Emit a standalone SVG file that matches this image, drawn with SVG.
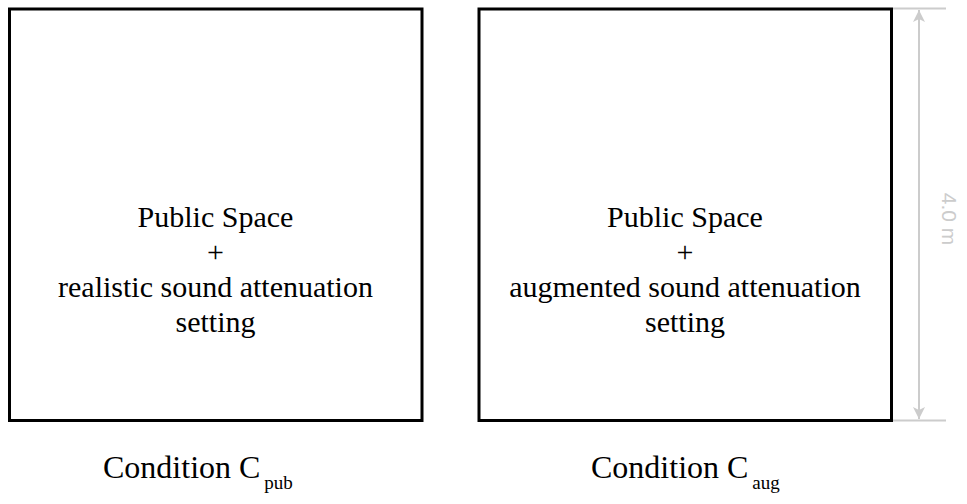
<svg xmlns="http://www.w3.org/2000/svg" width="967" height="504" viewBox="0 0 967 504">
  <style>
    .room { fill: #ffffff; stroke: #000000; stroke-width: 3; }
    .label { font-family: "Liberation Serif", "Times New Roman", serif; font-size: 30px; fill: #000000; text-anchor: middle; }
    .cond { font-family: "Liberation Serif", "Times New Roman", serif; font-size: 32px; fill: #000000; }
    .sub { font-size: 19px; }
    .dim { stroke: #cccccc; stroke-width: 2; fill: none; }
    .dimtext { font-family: "Liberation Sans", Arial, sans-serif; font-size: 21px; fill: #cccccc; text-anchor: middle; }
  </style>
  <defs>
    <marker id="arrow" viewBox="0 0 12 12" refX="12" refY="6" markerWidth="14" markerHeight="12" orient="auto-start-reverse" markerUnits="userSpaceOnUse">
      <path d="M0,0 L12,6 L0,12 L3,6 Z" fill="#cccccc"/>
    </marker>
  </defs>
  <rect width="967" height="504" fill="#ffffff"/>

  <g id="room-pub">
    <rect class="room" x="9.5" y="9" width="412.5" height="411.5"/>
    <text class="label" x="215.5" y="227">Public Space</text>
    <text class="label" x="215.5" y="262">+</text>
    <text class="label" x="215.5" y="297">realistic sound attenuation</text>
    <text class="label" x="215.5" y="332">setting</text>
  </g>

  <g id="room-aug">
    <rect class="room" x="479" y="9" width="412.5" height="411.5"/>
    <text class="label" x="685" y="227">Public Space</text>
    <text class="label" x="685" y="262">+</text>
    <text class="label" x="685" y="297">augmented sound attenuation</text>
    <text class="label" x="685" y="332">setting</text>
  </g>

  <g id="caption-pub">
    <text class="cond" x="103" y="478">Condition C<tspan class="sub" dx="4" dy="11">pub</tspan></text>
  </g>
  <g id="caption-aug">
    <text class="cond" x="591" y="478">Condition C<tspan class="sub" dx="4" dy="11">aug</tspan></text>
  </g>

  <g id="dimension">
    <line class="dim" x1="893" y1="8.5" x2="946" y2="8.5"/>
    <line class="dim" x1="893" y1="420.5" x2="946" y2="420.5"/>
    <line class="dim" x1="919" y1="10" x2="919" y2="419" marker-start="url(#arrow)" marker-end="url(#arrow)"/>
    <text class="dimtext" transform="translate(942,219) rotate(90)">4.0 m</text>
  </g>
</svg>
